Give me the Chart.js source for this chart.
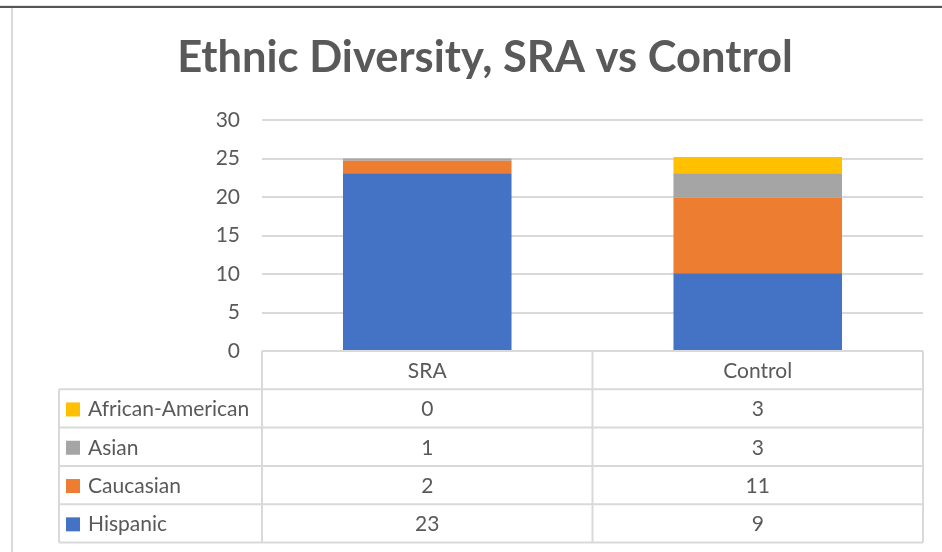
<!DOCTYPE html>
<html lang="en">
<head>
  <meta charset="UTF-8">
  <title>Ethnic Diversity, SRA vs Control</title>
  <script src="https://cdn.jsdelivr.net/npm/chart.js"></script>
  <style>
    html, body { margin:0; padding:0; background:#fff; }
    #wrap { position:relative; width:942px; height:552px; }
  </style>
</head>
<body>
  <div id="wrap"><canvas id="ethChart" width="942" height="552"></canvas></div>
<script>
const groups = ["SRA", "Control"];
const seriesNames = ["Hispanic", "Caucasian", "Asian", "African-American"];
const seriesColors = ["#4472C4", "#ED7D31", "#A5A5A5", "#FFC000"];
const yTicks = [0, 5, 10, 15, 20, 25, 30];

// bar heights as drawn in the picture
const hispanic = [23.1, 10.1];
const caucasian = [1.6, 9.8];
const asian = [0.3, 3.2];
const africanAmerican = [0, 2.1];

// numbers printed in the data table
const tableHispanic = [23, 9];
const tableCaucasian = [2, 11];
const tableAsian = [1, 3];
const tableAfricanAmerican = [0, 3];

const title = "Ethnic Diversity, SRA vs Control";
const FONT = "Lato, 'Open Sans', Arial, sans-serif";
const TXT = "#595959";
const LINE = "#d9d9d9";

const barSets = [hispanic, caucasian, asian, africanAmerican];
const tableRows = [
  [seriesNames[3], seriesColors[3], tableAfricanAmerican],
  [seriesNames[2], seriesColors[2], tableAsian],
  [seriesNames[1], seriesColors[1], tableCaucasian],
  [seriesNames[0], seriesColors[0], tableHispanic]
];

const framePlugin = {
  id: 'frame',
  beforeDraw(chart){
    const c = chart.ctx;
    c.save();
    c.fillStyle = "#e6e6e6"; c.fillRect(0, 5, 942, 1);
    c.fillStyle = "#555"; c.fillRect(0, 6, 942, 2);
    c.fillStyle = LINE; c.fillRect(11, 8, 2, 544);
    c.restore();
  },
  afterDraw(chart){
    const c = chart.ctx, a = chart.chartArea, x = chart.scales.x;
    c.save();
    // title
    c.fillStyle = TXT;
    c.font = "bold 43.5px " + FONT;
    c.textAlign = "center"; c.textBaseline = "alphabetic";
    c.fillText(title, 485, 72);

    // data table
    const rowH = 38.3;
    const top = a.bottom;
    const colL = 59, col1 = a.left, col3 = a.right;
    const col2 = (x.getPixelForValue(0) + x.getPixelForValue(1)) / 2;
    const bottom = top + rowH * 5;
    c.strokeStyle = LINE; c.lineWidth = 2;
    c.beginPath();
    c.moveTo(col1, top); c.lineTo(col3, top);
    for(let i = 1; i <= 5; i++){ c.moveTo(colL, top + rowH*i); c.lineTo(col3, top + rowH*i); }
    c.moveTo(colL, top + rowH); c.lineTo(colL, bottom);
    c.moveTo(col1, top); c.lineTo(col1, bottom);
    c.moveTo(col2, top); c.lineTo(col2, bottom);
    c.moveTo(col3, top); c.lineTo(col3, bottom);
    c.stroke();

    c.font = "21px " + FONT;
    c.fillStyle = TXT;
    c.textBaseline = "middle";
    c.textAlign = "center";
    groups.forEach((g, j) => c.fillText(g, x.getPixelForValue(j), top + rowH/2 + 1));
    tableRows.forEach((r, i) => {
      const cy = top + rowH*(i+1) + rowH/2 + 1;
      c.fillStyle = r[1];
      c.fillRect(66, cy - 7, 14, 14);
      c.fillStyle = TXT;
      c.textAlign = "left";
      c.fillText(r[0], 88, cy);
      c.textAlign = "center";
      r[2].forEach((v, j) => c.fillText(String(v), x.getPixelForValue(j), cy));
    });
    c.restore();
  }
};

new Chart(document.getElementById("ethChart").getContext('2d'), {
  type: 'bar',
  data: {
    labels: groups,
    datasets: barSets.map((d, i) => ({
      label: seriesNames[i],
      data: d,
      backgroundColor: seriesColors[i],
      borderWidth: 0,
      categoryPercentage: 1,
      barPercentage: 0.51
    }))
  },
  options: {
    responsive: false,
    animation: false,
    layout: { padding: { top: 120, right: 19, bottom: 201, left: 0 } },
    plugins: { legend: { display: false }, tooltip: { enabled: false }, title: { display: false } },
    scales: {
      x: { stacked: true, display: false },
      y: {
        stacked: true, min: 0, max: 30,
        afterFit: s => { s.width = 262; },
        afterBuildTicks: s => { s.ticks = yTicks.map(v => ({ value: v })); },
        ticks: { padding: 22, color: TXT, font: { family: FONT, size: 21 } },
        grid: { color: LINE, lineWidth: 2, drawTicks: false },
        border: { display: false }
      }
    }
  },
  plugins: [framePlugin]
});
</script>
</body>
</html>
